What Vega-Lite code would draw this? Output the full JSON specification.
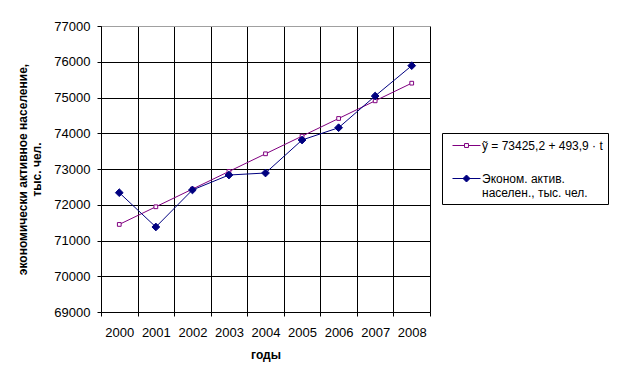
{
  "$schema": "https://vega.github.io/schema/vega-lite/v6.json",
  "width": 329,
  "height": 286,
  "autosize": "none",
  "padding": {"left": 101, "top": 26, "right": 189, "bottom": 68},
  "background": "white",
  "config": {
    "font": "Liberation Sans",
    "view": {"stroke": "#808080", "strokeDash": [2, 2], "strokeWidth": 1}
  },
  "data": {
    "values": [
      {"year": "2000", "series": "trend", "value": 71449.6},
      {"year": "2001", "series": "trend", "value": 71943.5},
      {"year": "2002", "series": "trend", "value": 72437.4},
      {"year": "2003", "series": "trend", "value": 72931.3},
      {"year": "2004", "series": "trend", "value": 73425.2},
      {"year": "2005", "series": "trend", "value": 73919.1},
      {"year": "2006", "series": "trend", "value": 74413.0},
      {"year": "2007", "series": "trend", "value": 74906.9},
      {"year": "2008", "series": "trend", "value": 75400.8},
      {"year": "2000", "series": "actual", "value": 72337},
      {"year": "2001", "series": "actual", "value": 71378},
      {"year": "2002", "series": "actual", "value": 72413},
      {"year": "2003", "series": "actual", "value": 72832},
      {"year": "2004", "series": "actual", "value": 72888},
      {"year": "2005", "series": "actual", "value": 73811},
      {"year": "2006", "series": "actual", "value": 74155},
      {"year": "2007", "series": "actual", "value": 75042},
      {"year": "2008", "series": "actual", "value": 75890}
    ]
  },
  "encoding": {
    "x": {
      "field": "year",
      "type": "ordinal",
      "scale": {"type": "band", "paddingInner": 0, "paddingOuter": 0},
      "axis": {
        "title": "годы",
        "titleFont": "Liberation Sans",
        "titleFontSize": 12,
        "titleFontWeight": "bold",
        "titleColor": "black",
        "titlePadding": 10,
        "labelAngle": 0,
        "labelFontSize": 13,
        "labelColor": "black",
        "labelPadding": 10,
        "tickBand": "extent",
        "tickSize": 4,
        "tickColor": "black",
        "domainColor": "black",
        "grid": true,
        "gridColor": "black",
        "gridOpacity": 1
      }
    },
    "y": {
      "field": "value",
      "type": "quantitative",
      "scale": {"domain": [69000, 77000], "zero": false, "nice": false},
      "axis": {
        "title": ["экономически активное население,", "тыс. чел."],
        "titleFontSize": 12,
        "titleFontWeight": "bold",
        "titleColor": "black",
        "titlePadding": 10,
        "values": [69000, 70000, 71000, 72000, 73000, 74000, 75000, 76000, 77000],
        "format": "d",
        "labelFontSize": 13,
        "labelColor": "black",
        "labelPadding": 7,
        "tickSize": 4,
        "tickColor": "black",
        "domainColor": "black",
        "grid": true,
        "gridColor": {"condition": {"test": "datum.value == 77000", "value": "#a0a0a0"}, "value": "black"},
        "gridOpacity": 1
      }
    }
  },
  "layer": [
    {
      "mark": {"type": "line", "strokeWidth": 1},
      "encoding": {
        "stroke": {
          "field": "series",
          "type": "nominal",
          "scale": {"domain": ["trend", "actual"], "range": ["#800080", "#000080"]},
          "legend": {
            "orient": "none",
            "legendX": 341,
            "legendY": 107,
            "title": null,
            "strokeColor": "black",
            "fillColor": "white",
            "padding": 5,
            "labelFontSize": 12,
            "labelColor": "black",
            "labelOffset": 8,
            "symbolOffset": 12,
            "labelLimit": 200,
            "rowPadding": 19,
            "symbolSize": 196,
            "symbolStrokeWidth": 1,
            "labelExpr": "datum.value == 'trend' ? 'ỹ = 73425,2 + 493,9 · t' : ['Эконом. актив.', 'населен., тыс. чел.']",
            "symbolType": "M-2,0H2",
            "encode": {
              "symbols": {
                "update": {
                  "shape": {"signal": "datum.value == 'trend' ? 'M-2,0H-0.28M0.28,0H2M-0.28,-0.28H0.28V0.28H-0.28Z' : 'M-2,0H2M0,-0.5L0.5,0L0,0.5L-0.5,0Z'"},
                  "fill": {"signal": "datum.value == 'trend' ? 'white' : '#000080'"},
                  "size": {"value": 196},
                  "strokeWidth": {"value": 1}
                }
              }
            }
          }
        }
      }
    },
    {
      "transform": [{"filter": "datum.series == 'trend'"}],
      "mark": {"type": "point", "shape": "square", "size": 14, "filled": false, "fill": "white", "stroke": "#800080", "strokeWidth": 1, "opacity": 1}
    },
    {
      "transform": [{"filter": "datum.series == 'actual'"}],
      "mark": {"type": "point", "shape": "M0,-1L1,0L0,1L-1,0Z", "size": 60, "filled": true, "fill": "#000080", "stroke": "#000080", "strokeWidth": 1, "opacity": 1}
    }
  ]
}
